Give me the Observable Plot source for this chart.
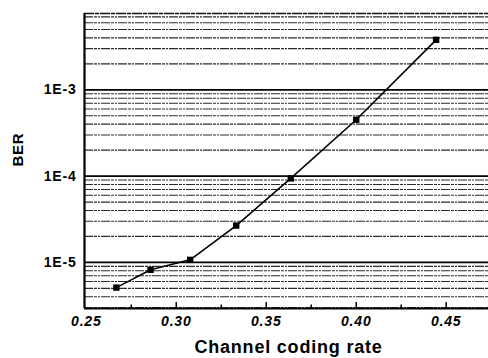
<!DOCTYPE html>
<html><head><meta charset="utf-8">
<script src="https://cdn.jsdelivr.net/npm/d3@7"></script>
<script src="https://cdn.jsdelivr.net/npm/@observablehq/plot@0.6"></script>
<style>
html,body{margin:0;padding:0;background:#fff;}
svg{display:block;}
</style>
</head><body><div id="chart"></div>
<script>
const rate = [0.2667, 0.2857, 0.3077, 0.3333, 0.3636, 0.4, 0.4444];
const ber  = [5.1e-6, 8.2e-6, 1.07e-5, 2.67e-5, 9.4e-5, 4.5e-4, 3.8e-3];
const xTicks = [0.25, 0.30, 0.35, 0.40, 0.45];
const xMinorTicks = [0.275, 0.325, 0.375, 0.425];
const yMajor = [1e-5, 1e-4, 1e-3];
const yLabels = ["1E-5", "1E-4", "1E-3"];
const yMinor = [3e-6,4e-6,5e-6,6e-6,7e-6,8e-6,9e-6,
  2e-5,3e-5,4e-5,5e-5,6e-5,7e-5,8e-5,9e-5,
  2e-4,3e-4,4e-4,5e-4,6e-4,7e-4,8e-4,9e-4,
  2e-3,3e-3,4e-3,5e-3,6e-3,7e-3];

const data = rate.map((r,i)=>({rate:r, ber:ber[i]}));
const yDomain = [2.92e-6, 7.67e-3];
const noLabel = () => "";

const chart = Plot.plot({
  width: 488, height: 358,
  marginLeft: 84, marginRight: 0, marginTop: 13, marginBottom: 50,
  style: {fontFamily: "'Liberation Sans', Arial, sans-serif", background: "#fff", letterSpacing: "0.8px"},
  x: {domain: [0.249, 0.4735]},
  y: {type: "log", domain: yDomain},
  marks: [
    Plot.ruleY(yMinor.filter(v=>v>yDomain[0] && v<yDomain[1]), {stroke: "#2a2a2a", strokeWidth: 1.1, strokeDasharray: "9,1,3,1,2,1"}),
    Plot.ruleY([yDomain[1]], {stroke: "#111", strokeWidth: 1.3, strokeDasharray: "10,1,4,1"}),
    Plot.ruleY(yMajor, {stroke: "#000", strokeWidth: 1.8}),
    Plot.axisY({ticks: yMajor, tickFormat: (d)=>yLabels[yMajor.indexOf(d)], tickSize: 0, tickPadding: 8, fontSize: 14, fontWeight: "bold", label: null}),
    Plot.axisX({ticks: xTicks, tickFormat: ".2f", tickSize: 0, tickPadding: 8, fontSize: 14, fontWeight: "bold", fontStyle: "italic", label: null}),
    Plot.axisX({ticks: xTicks.slice(1), tickSize: -6, strokeWidth: 1.5, tickFormat: noLabel, label: null}),
    Plot.axisX({ticks: xMinorTicks, tickSize: -3.5, strokeWidth: 1.5, tickFormat: noLabel, label: null}),
    Plot.ruleX([0.249], {stroke: "#000", strokeWidth: 2.2}),
    Plot.ruleY([yDomain[0]], {stroke: "#000", strokeWidth: 2.2}),
    Plot.line(data, {x: "rate", y: "ber", stroke: "#000", strokeWidth: 1.6}),
    Plot.dot(data, {x: "rate", y: "ber", symbol: "square", r: 3.6, fill: "#000", stroke: "none"}),
    Plot.text(["Channel coding rate"], {frameAnchor: "bottom", lineAnchor: "bottom", dx: 2, dy: 44, text: d=>d, fontSize: 18, fontWeight: "bold", fill: "#000"}),
    Plot.text(["BER"], {frameAnchor: "left", y: [1.29e-4], dx: -66, rotate: -90, text: d=>d, fontSize: 15, fontWeight: "bold", fill: "#000"})
  ]
});
document.getElementById("chart").appendChild(chart);
</script>
</body></html>
